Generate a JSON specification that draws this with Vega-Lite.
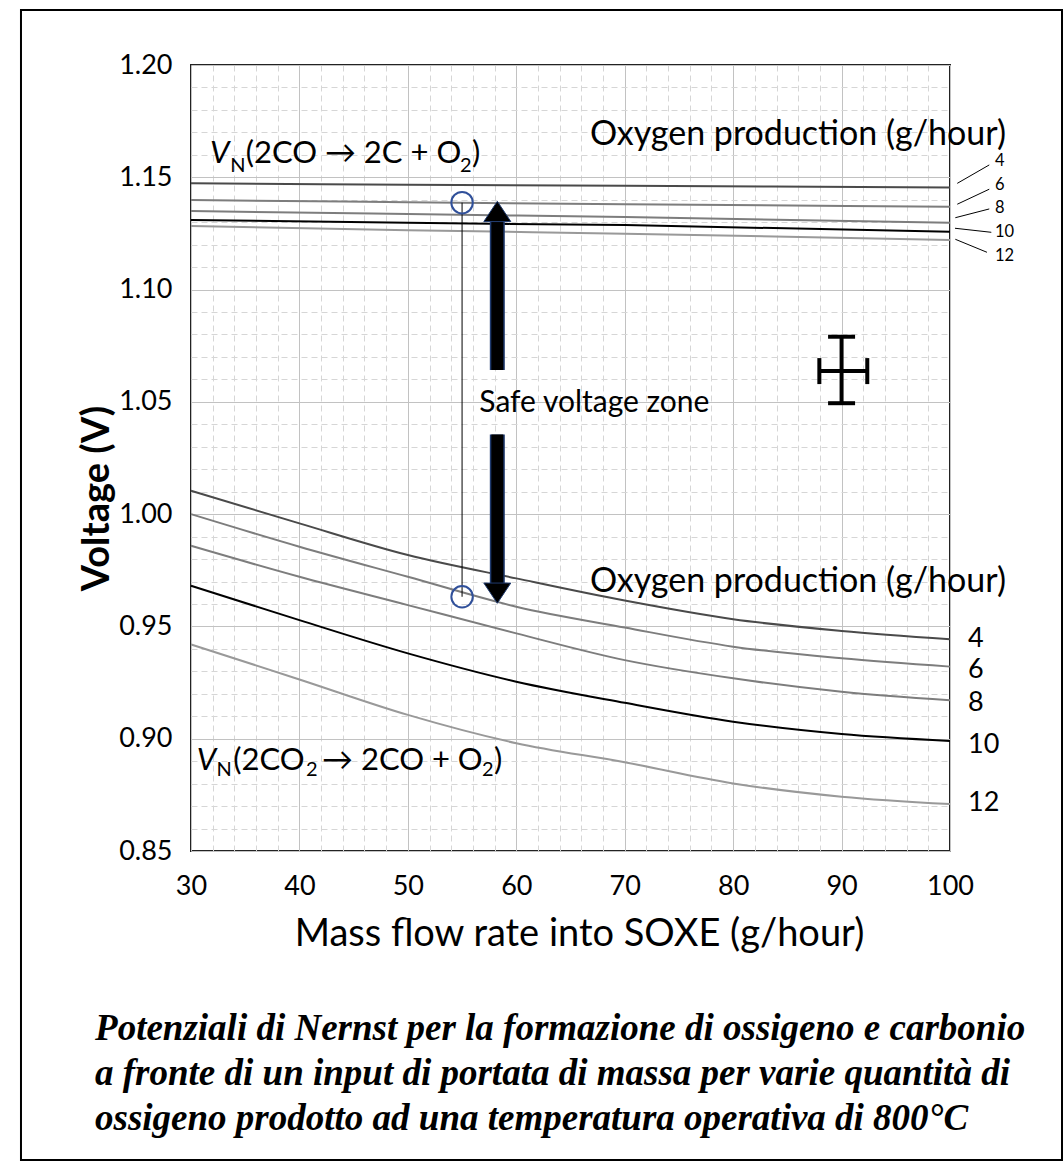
{
  "$schema": "https://vega.github.io/schema/vega-lite/v6.json",
  "width": 759,
  "height": 786,
  "autosize": {"type": "none"},
  "padding": {"left": 191, "top": 65, "right": 114, "bottom": 311},
  "background": "white",
  "config": {
    "view": {"stroke": "#222222", "strokeWidth": 2},
    "font": "Lato",
    "axis": {"labelFont": "Lato", "titleFont": "Lato", "labelColor": "black", "titleColor": "black", "ticks": false, "tickSize": 0, "domain": false, "gridColor": "#c2c2c2", "gridWidth": 1, "gridOpacity": 1, "labelFlush": false, "labelOverlap": false}
  },
  "datasets": {
    "curves": [
      {"reaction": "CO", "o2": 4, "flow": 30, "voltage": 1.1473},
      {"reaction": "CO", "o2": 4, "flow": 50, "voltage": 1.1467},
      {"reaction": "CO", "o2": 4, "flow": 70, "voltage": 1.1462},
      {"reaction": "CO", "o2": 4, "flow": 100, "voltage": 1.1454},
      {"reaction": "CO", "o2": 6, "flow": 30, "voltage": 1.1399},
      {"reaction": "CO", "o2": 6, "flow": 50, "voltage": 1.1389},
      {"reaction": "CO", "o2": 6, "flow": 70, "voltage": 1.1380},
      {"reaction": "CO", "o2": 6, "flow": 100, "voltage": 1.1369},
      {"reaction": "CO", "o2": 8, "flow": 30, "voltage": 1.1350},
      {"reaction": "CO", "o2": 8, "flow": 50, "voltage": 1.1336},
      {"reaction": "CO", "o2": 8, "flow": 70, "voltage": 1.1323},
      {"reaction": "CO", "o2": 8, "flow": 100, "voltage": 1.1298},
      {"reaction": "CO", "o2": 10, "flow": 30, "voltage": 1.1310},
      {"reaction": "CO", "o2": 10, "flow": 50, "voltage": 1.1297},
      {"reaction": "CO", "o2": 10, "flow": 70, "voltage": 1.1287},
      {"reaction": "CO", "o2": 10, "flow": 100, "voltage": 1.1258},
      {"reaction": "CO", "o2": 12, "flow": 30, "voltage": 1.1283},
      {"reaction": "CO", "o2": 12, "flow": 50, "voltage": 1.1264},
      {"reaction": "CO", "o2": 12, "flow": 70, "voltage": 1.1249},
      {"reaction": "CO", "o2": 12, "flow": 100, "voltage": 1.1221},
      {"reaction": "CO2", "o2": 4, "flow": 30, "voltage": 1.0104},
      {"reaction": "CO2", "o2": 4, "flow": 40, "voltage": 0.9959},
      {"reaction": "CO2", "o2": 4, "flow": 50, "voltage": 0.9818},
      {"reaction": "CO2", "o2": 4, "flow": 60, "voltage": 0.9714},
      {"reaction": "CO2", "o2": 4, "flow": 70, "voltage": 0.9615},
      {"reaction": "CO2", "o2": 4, "flow": 80, "voltage": 0.9532},
      {"reaction": "CO2", "o2": 4, "flow": 90, "voltage": 0.9480},
      {"reaction": "CO2", "o2": 4, "flow": 100, "voltage": 0.9443},
      {"reaction": "CO2", "o2": 6, "flow": 30, "voltage": 1.0000},
      {"reaction": "CO2", "o2": 6, "flow": 40, "voltage": 0.9855},
      {"reaction": "CO2", "o2": 6, "flow": 50, "voltage": 0.9721},
      {"reaction": "CO2", "o2": 6, "flow": 60, "voltage": 0.9588},
      {"reaction": "CO2", "o2": 6, "flow": 70, "voltage": 0.9495},
      {"reaction": "CO2", "o2": 6, "flow": 80, "voltage": 0.9410},
      {"reaction": "CO2", "o2": 6, "flow": 90, "voltage": 0.9358},
      {"reaction": "CO2", "o2": 6, "flow": 100, "voltage": 0.9321},
      {"reaction": "CO2", "o2": 8, "flow": 30, "voltage": 0.9859},
      {"reaction": "CO2", "o2": 8, "flow": 40, "voltage": 0.9721},
      {"reaction": "CO2", "o2": 8, "flow": 50, "voltage": 0.9595},
      {"reaction": "CO2", "o2": 8, "flow": 60, "voltage": 0.9469},
      {"reaction": "CO2", "o2": 8, "flow": 70, "voltage": 0.9350},
      {"reaction": "CO2", "o2": 8, "flow": 80, "voltage": 0.9269},
      {"reaction": "CO2", "o2": 8, "flow": 90, "voltage": 0.9209},
      {"reaction": "CO2", "o2": 8, "flow": 100, "voltage": 0.9171},
      {"reaction": "CO2", "o2": 10, "flow": 30, "voltage": 0.9681},
      {"reaction": "CO2", "o2": 10, "flow": 40, "voltage": 0.9528},
      {"reaction": "CO2", "o2": 10, "flow": 50, "voltage": 0.9380},
      {"reaction": "CO2", "o2": 10, "flow": 60, "voltage": 0.9254},
      {"reaction": "CO2", "o2": 10, "flow": 70, "voltage": 0.9160},
      {"reaction": "CO2", "o2": 10, "flow": 80, "voltage": 0.9076},
      {"reaction": "CO2", "o2": 10, "flow": 90, "voltage": 0.9021},
      {"reaction": "CO2", "o2": 10, "flow": 100, "voltage": 0.8990},
      {"reaction": "CO2", "o2": 12, "flow": 30, "voltage": 0.9420},
      {"reaction": "CO2", "o2": 12, "flow": 40, "voltage": 0.9264},
      {"reaction": "CO2", "o2": 12, "flow": 50, "voltage": 0.9106},
      {"reaction": "CO2", "o2": 12, "flow": 60, "voltage": 0.8980},
      {"reaction": "CO2", "o2": 12, "flow": 70, "voltage": 0.8895},
      {"reaction": "CO2", "o2": 12, "flow": 80, "voltage": 0.8801},
      {"reaction": "CO2", "o2": 12, "flow": 90, "voltage": 0.8742},
      {"reaction": "CO2", "o2": 12, "flow": 100, "voltage": 0.8709}
    ]
  },
  "layer": [
    {
      "data": {"values": []},
      "mark": {"type": "point", "opacity": 0},
      "encoding": {
        "x": {"field": "flow", "type": "quantitative", "scale": {"domain": [30, 100], "nice": false, "zero": false},
          "axis": {"orient": "bottom", "values": [32,34,36,38,42,44,46,48,52,54,56,58,62,64,66,68,72,74,76,78,82,84,86,88,92,94,96,98], "grid": true, "gridDash": [6, 4], "gridColor": "#d6d6d6", "labels": false, "ticks": false, "domain": false, "title": null}},
        "y": {"field": "voltage", "type": "quantitative", "scale": {"domain": [0.85, 1.2], "nice": false, "zero": false},
          "axis": {"orient": "left", "values": [0.86,0.87,0.88,0.89,0.91,0.92,0.93,0.94,0.96,0.97,0.98,0.99,1.01,1.02,1.03,1.04,1.06,1.07,1.08,1.09,1.11,1.12,1.13,1.14,1.16,1.17,1.18,1.19], "grid": true, "gridDash": [6, 4], "gridColor": "#d6d6d6", "labels": false, "ticks": false, "domain": false, "title": null}}
      }
    },
    {
      "layer": [
        {
          "data": {"name": "curves"},
          "mark": {"type": "line", "strokeWidth": 2, "interpolate": "monotone"},
          "encoding": {
            "x": {"field": "flow", "type": "quantitative", "scale": {"domain": [30, 100], "nice": false, "zero": false},
              "axis": {"orient": "bottom", "values": [30,40,50,60,70,80,90,100], "grid": true, "labelFontSize": 27, "labelPadding": 22, "labelFlush": false, "title": "Mass flow rate into SOXE (g/hour)", "titleFontSize": 38, "titleFontWeight": "normal", "titleBaseline": "alphabetic", "titleY": 94, "titleX": 388}},
            "y": {"field": "voltage", "type": "quantitative", "scale": {"domain": [0.85, 1.2], "nice": false, "zero": false},
              "axis": {"orient": "left", "values": [0.85,0.9,0.95,1,1.05,1.1,1.15,1.2], "format": ".2f", "grid": true, "labelFontSize": 27, "labelPadding": 19, "labelFlush": false, "title": "Voltage (V)", "titleFontSize": 38, "titleFontWeight": "bold", "titleBaseline": "alphabetic", "titleAngle": 270, "titleX": -83, "titleY": 433, "titleAlign": "center"}},
            "detail": {"field": "reaction", "type": "nominal"},
            "color": {"field": "o2", "type": "nominal", "scale": {"domain": [4, 6, 8, 10, 12], "range": ["#4a4a4a", "#7d7d7d", "#7d7d7d", "#000000", "#999999"]}, "legend": null}
          }
        },
        {
          "data": {"values": [{"flow": 55, "voltage": 1.1387, "voltage2": 0.9632}]},
          "mark": {"type": "rule", "color": "black", "strokeWidth": 1},
          "encoding": {"x": {"field": "flow", "type": "quantitative"}, "y": {"field": "voltage", "type": "quantitative"}, "y2": {"field": "voltage2"}}
        },
        {
          "data": {"values": [{"flow": 55, "voltage": 1.1387}, {"flow": 55, "voltage": 0.9632}]},
          "mark": {"type": "point", "shape": "circle", "size": 460, "filled": false, "stroke": "#30509a", "strokeWidth": 2, "opacity": 1},
          "encoding": {"x": {"field": "flow", "type": "quantitative"}, "y": {"field": "voltage", "type": "quantitative"}}
        },
        {
          "data": {"values": [{"flow": 58.25, "voltage": 1.1302, "voltage2": 1.0642}, {"flow": 58.25, "voltage": 1.0355, "voltage2": 0.9692}]},
          "mark": {"type": "rule", "color": "#1f3a6e", "strokeWidth": 15, "strokeCap": "butt"},
          "encoding": {"x": {"field": "flow", "type": "quantitative"}, "y": {"field": "voltage", "type": "quantitative"}, "y2": {"field": "voltage2"}}
        },
        {
          "data": {"values": [{"flow": 58.25, "voltage": 1.1302, "voltage2": 1.0642}, {"flow": 58.25, "voltage": 1.0355, "voltage2": 0.9692}]},
          "mark": {"type": "rule", "color": "black", "strokeWidth": 12, "strokeCap": "butt"},
          "encoding": {"x": {"field": "flow", "type": "quantitative"}, "y": {"field": "voltage", "type": "quantitative"}, "y2": {"field": "voltage2"}}
        },
        {
          "data": {"values": [{"flow": 58.25, "voltage": 1.1393, "dir": "up"}, {"flow": 58.25, "voltage": 0.9603, "dir": "down"}]},
          "mark": {"type": "point", "filled": true, "size": 729, "fill": "black", "stroke": "#1f3a6e", "strokeWidth": 1, "opacity": 1},
          "encoding": {"x": {"field": "flow", "type": "quantitative"}, "y": {"field": "voltage", "type": "quantitative"},
            "shape": {"field": "dir", "type": "nominal", "scale": {"domain": ["up", "down"], "range": ["M-1,1.5L1,1.5L0,0Z", "M-1,-1.5L1,-1.5L0,0Z"]}, "legend": null}}
        },
        {
          "data": {"values": [{"flow": 90, "voltage": 1.0494, "voltage2": 1.0790}]},
          "mark": {"type": "rule", "color": "black", "strokeWidth": 4},
          "encoding": {"x": {"field": "flow", "type": "quantitative"}, "y": {"field": "voltage", "type": "quantitative"}, "y2": {"field": "voltage2"}}
        },
        {
          "data": {"values": [{"flow": 87.95, "flow2": 92.37, "voltage": 1.0637}]},
          "mark": {"type": "rule", "color": "black", "strokeWidth": 4},
          "encoding": {"x": {"field": "flow", "type": "quantitative"}, "x2": {"field": "flow2"}, "y": {"field": "voltage", "type": "quantitative"}}
        },
        {
          "data": {"values": [{"flow": 90, "voltage": 1.0790}, {"flow": 90, "voltage": 1.0494}]},
          "mark": {"type": "tick", "orient": "horizontal", "size": 27, "thickness": 4, "color": "black", "opacity": 1},
          "encoding": {"x": {"field": "flow", "type": "quantitative"}, "y": {"field": "voltage", "type": "quantitative"}}
        },
        {
          "data": {"values": [{"flow": 87.95, "voltage": 1.0637}, {"flow": 92.37, "voltage": 1.0637}]},
          "mark": {"type": "tick", "orient": "vertical", "size": 26, "thickness": 4, "color": "black", "opacity": 1},
          "encoding": {"x": {"field": "flow", "type": "quantitative"}, "y": {"field": "voltage", "type": "quantitative"}}
        },
        {
          "data": {"values": [
            {"flow": 100.67, "flow2": 103.62, "voltage": 1.1473, "voltage2": 1.1555},
            {"flow": 100.67, "flow2": 103.62, "voltage": 1.1380, "voltage2": 1.1447},
            {"flow": 100.49, "flow2": 103.62, "voltage": 1.1320, "voltage2": 1.1359},
            {"flow": 100.46, "flow2": 103.81, "voltage": 1.1273, "voltage2": 1.1255},
            {"flow": 100.49, "flow2": 103.41, "voltage": 1.1224, "voltage2": 1.1166}
          ]},
          "mark": {"type": "rule", "color": "black", "strokeWidth": 1},
          "encoding": {"x": {"field": "flow", "type": "quantitative"}, "x2": {"field": "flow2"}, "y": {"field": "voltage", "type": "quantitative"}, "y2": {"field": "voltage2"}}
        },
        {
          "data": {"values": [
            {"flow": 104.15, "voltage": 1.1574, "label": "4"},
            {"flow": 104.15, "voltage": 1.1466, "label": "6"},
            {"flow": 104.15, "voltage": 1.1362, "label": "8"},
            {"flow": 104.15, "voltage": 1.1255, "label": "10"},
            {"flow": 104.15, "voltage": 1.1149, "label": "12"}
          ]},
          "mark": {"type": "text", "font": "Lato", "fontSize": 16.5, "align": "left", "baseline": "middle", "color": "black"},
          "encoding": {"x": {"field": "flow", "type": "quantitative"}, "y": {"field": "voltage", "type": "quantitative"}, "text": {"field": "label", "type": "nominal"}}
        },
        {
          "data": {"values": [
            {"flow": 101.66, "voltage": 0.9444, "label": "4"},
            {"flow": 101.66, "voltage": 0.9306, "label": "6"},
            {"flow": 101.66, "voltage": 0.9159, "label": "8"},
            {"flow": 101.66, "voltage": 0.8972, "label": "10"},
            {"flow": 101.66, "voltage": 0.8714, "label": "12"}
          ]},
          "mark": {"type": "text", "font": "Lato", "fontSize": 27, "align": "left", "baseline": "middle", "color": "black"},
          "encoding": {"x": {"field": "flow", "type": "quantitative"}, "y": {"field": "voltage", "type": "quantitative"}, "text": {"field": "label", "type": "nominal"}}
        },
        {
          "data": {"values": [
            {"flow": 66.8, "voltage": 1.1644, "label": "Oxygen production (g/hour)"},
            {"flow": 66.8, "voltage": 0.9655, "label": "Oxygen production (g/hour)"}
          ]},
          "mark": {"type": "text", "font": "Lato", "fontSize": 34, "align": "left", "baseline": "alphabetic", "color": "black"},
          "encoding": {"x": {"field": "flow", "type": "quantitative"}, "y": {"field": "voltage", "type": "quantitative"}, "text": {"field": "label", "type": "nominal"}}
        },
        {
          "data": {"values": [{"flow": 56.59, "voltage": 1.0456, "label": "Safe voltage zone"}]},
          "mark": {"type": "text", "font": "Lato", "fontSize": 30, "align": "left", "baseline": "alphabetic", "color": "black"},
          "encoding": {"x": {"field": "flow", "type": "quantitative"}, "y": {"field": "voltage", "type": "quantitative"}, "text": {"field": "label", "type": "nominal"}}
        },
        {
          "data": {"values": [
            {"flow": 31.75, "voltage": 1.1564, "label": "V"},
            {"flow": 30.53, "voltage": 0.8861, "label": "V"}
          ]},
          "mark": {"type": "text", "font": "Lato", "fontSize": 31, "fontStyle": "italic", "align": "left", "baseline": "alphabetic", "color": "black"},
          "encoding": {"x": {"field": "flow", "type": "quantitative"}, "y": {"field": "voltage", "type": "quantitative"}, "text": {"field": "label", "type": "nominal"}}
        },
        {
          "data": {"values": [
            {"flow": 33.62, "voltage": 1.1525, "label": "N"},
            {"flow": 54.81, "voltage": 1.1525, "label": "2"},
            {"flow": 32.35, "voltage": 0.8832, "label": "N"},
            {"flow": 40.6, "voltage": 0.8832, "label": "2"},
            {"flow": 56.84, "voltage": 0.8832, "label": "2"}
          ]},
          "mark": {"type": "text", "font": "Lato", "fontSize": 20, "align": "left", "baseline": "alphabetic", "color": "black"},
          "encoding": {"x": {"field": "flow", "type": "quantitative"}, "y": {"field": "voltage", "type": "quantitative"}, "text": {"field": "label", "type": "nominal"}}
        },
        {
          "data": {"values": [
            {"flow": 35.04, "voltage": 1.1564, "label": "(2CO → 2C + O"},
            {"flow": 55.92, "voltage": 1.1564, "label": ")"},
            {"flow": 33.9, "voltage": 0.8861, "label": "(2CO"},
            {"flow": 42.08, "voltage": 0.8861, "label": "→ 2CO + O"},
            {"flow": 57.94, "voltage": 0.8861, "label": ")"}
          ]},
          "mark": {"type": "text", "font": "Lato", "fontSize": 31, "align": "left", "baseline": "alphabetic", "color": "black"},
          "encoding": {"x": {"field": "flow", "type": "quantitative"}, "y": {"field": "voltage", "type": "quantitative"}, "text": {"field": "label", "type": "nominal"}}
        },
        {
          "data": {"values": [{"flow": 21.15, "voltage": 0.7658, "label": "Potenziali di Nernst per la formazione di ossigeno e carbonio\na fronte di un input di portata di massa per varie quantità di\nossigeno prodotto ad una temperatura operativa di 800°C"}]},
          "mark": {"type": "text", "font": "Liberation Serif", "fontSize": 37, "fontStyle": "italic", "fontWeight": "bold", "lineHeight": 45, "lineBreak": "\n", "align": "left", "baseline": "alphabetic", "color": "black"},
          "encoding": {"x": {"field": "flow", "type": "quantitative"}, "y": {"field": "voltage", "type": "quantitative"}, "text": {"field": "label", "type": "nominal"}}
        },
        {
          "data": {"values": [{"flow": 14.32, "flow2": 110.33, "voltage": 1.2245, "voltage2": 0.7124}]},
          "mark": {"type": "rect", "fill": null, "fillOpacity": 0, "stroke": "black", "strokeWidth": 2, "clip": false},
          "encoding": {"x": {"field": "flow", "type": "quantitative"}, "x2": {"field": "flow2"}, "y": {"field": "voltage", "type": "quantitative"}, "y2": {"field": "voltage2"}}
        }
      ]
    }
  ],
  "resolve": {"axis": {"x": "independent", "y": "independent"}}
}
